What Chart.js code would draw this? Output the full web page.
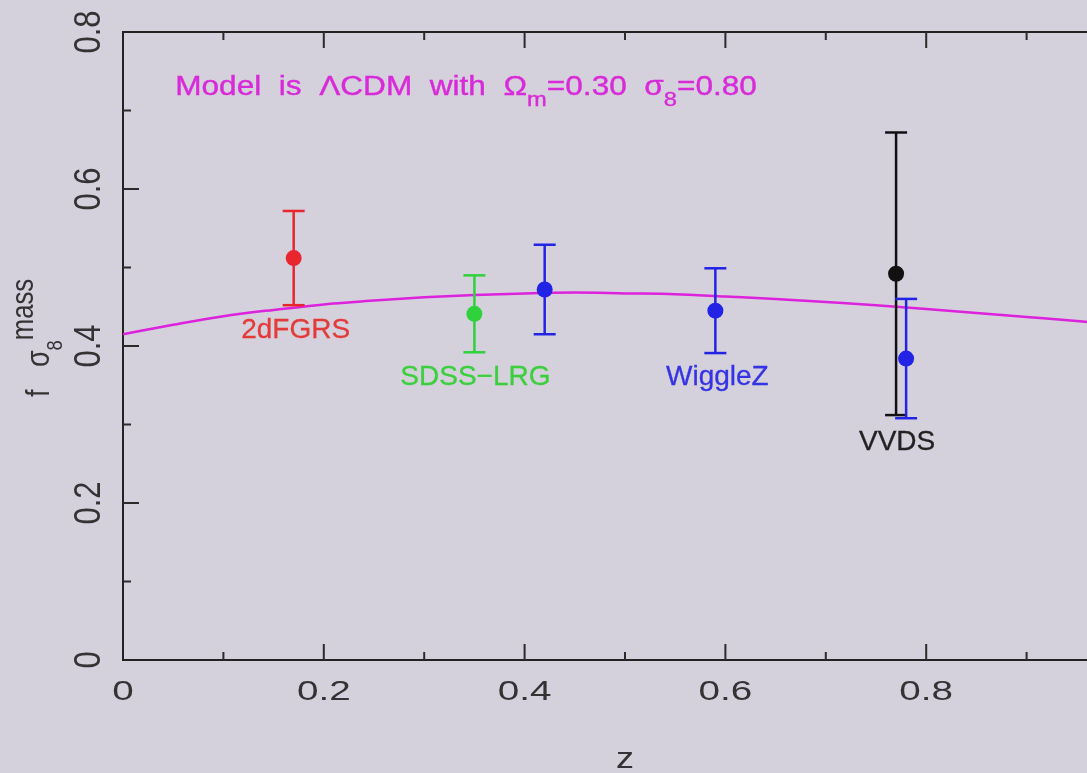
<!DOCTYPE html>
<html>
<head>
<meta charset="utf-8">
<title>f sigma8 vs z</title>
<script src="https://cdn.jsdelivr.net/npm/chart.js@4.4.1/dist/chart.umd.min.js"></script>
<style>
  html, body { margin: 0; padding: 0; overflow: hidden; background: #d4d0dc; }
  #wrap { position: relative; width: 1160px; height: 773px; }
</style>
</head>
<body>
<div id="wrap"><canvas id="c" width="1160" height="773"></canvas></div>
<script>
// growth-rate measurements
const surveys = ['2dFGRS', 'SDSS-LRG', 'WiggleZ', 'WiggleZ', 'WiggleZ', 'VVDS'];
const zData   = [0.17, 0.35, 0.42, 0.59, 0.78, 0.77];
const fsData  = [0.512, 0.441, 0.472, 0.445, 0.384, 0.492];
const fsErr   = [0.060, 0.049, 0.057, 0.054, 0.076, 0.180];

// LCDM prediction, Om=0.30 s8=0.80
const zModel  = [0, 0.05, 0.1, 0.15, 0.2, 0.25, 0.3, 0.35, 0.4, 0.45, 0.5,
                 0.55, 0.6, 0.65, 0.7, 0.75, 0.8, 0.85, 0.9, 0.95, 1.0];
const fsModel = [0.415, 0.427, 0.438, 0.446, 0.453, 0.458, 0.462, 0.465, 0.467, 0.468, 0.467,
                 0.466, 0.463, 0.460, 0.456, 0.452, 0.447, 0.442, 0.437, 0.432, 0.426];

const xTickLabels = [0, 0.2, 0.4, 0.6, 0.8, 1.0];
const xTickMinor  = [0.1, 0.3, 0.5, 0.7, 0.9];
const yTickLabels = [0, 0.2, 0.4, 0.6, 0.8];
const yTickMinor  = [0.1, 0.3, 0.5, 0.7];

const colors = ['#e8262e', '#2fd23a', '#2323e6', '#2323e6', '#2323e6', '#111111'];
const FONT = '"Liberation Sans", Arial, sans-serif';
const INK = '#333333';

// text labels inside the frame: [text, z, baseline value, colour]
const notes = [
  ['2dFGRS',   0.172, 0.410, '#e33a3a'],
  ['SDSS\u2212LRG', 0.351, 0.350, '#3ccf3c'],
  ['WiggleZ',  0.592, 0.350, '#3434e2'],
  ['VVDS',     0.771, 0.268, '#222222'],
];

// draw a run of text pieces (sub/superscripts) with optional stretch and rotation
function drawRich(ctx, segs, x, y, o) {
  ctx.save();
  ctx.translate(x, y);
  ctx.scale(o.sx || 1, 1);
  if (o.rot) ctx.rotate(o.rot);
  ctx.fillStyle = o.color;
  ctx.strokeStyle = o.color;
  ctx.lineWidth = o.weight || 0;
  ctx.textBaseline = 'alphabetic';
  ctx.textAlign = 'left';
  const parts = segs.map(s => {
    const size = o.size * (s.k || 1);
    ctx.font = `${size}px ${FONT}`;
    return { ...s, size, w: ctx.measureText(s.t).width };
  });
  const total = parts.reduce((a, p) => a + p.w, 0);
  let cx = o.align === 'left' ? 0 : -total / 2;
  for (const p of parts) {
    ctx.font = `${p.size}px ${FONT}`;
    const dy = (p.dy || 0) * o.size;
    ctx.fillText(p.t, cx, dy);
    if (o.weight) ctx.strokeText(p.t, cx, dy);
    cx += p.w;
  }
  ctx.restore();
}

const framePlugin = {
  id: 'frame',
  afterDraw(chart) {
    const { ctx, chartArea: a, scales: { x, y } } = chart;
    ctx.save();
    ctx.strokeStyle = '#2b2b2b';
    ctx.lineWidth = 2;
    ctx.beginPath();
    const tick = (v, len) => {
      const px = x.getPixelForValue(v);
      ctx.moveTo(px, a.bottom); ctx.lineTo(px, a.bottom - len);
      ctx.moveTo(px, a.top);    ctx.lineTo(px, a.top + len);
    };
    xTickLabels.slice(1).forEach(v => tick(v, 16));
    xTickMinor.forEach(v => tick(v, 8));
    const ytick = (v, len) => {
      const py = y.getPixelForValue(v);
      ctx.moveTo(a.left, py); ctx.lineTo(a.left + len, py);
    };
    yTickLabels.slice(1, -1).forEach(v => ytick(v, 16));
    yTickMinor.forEach(v => ytick(v, 8));
    ctx.stroke();
    ctx.restore();

    // tick labels
    xTickLabels.forEach(v => {
      drawRich(ctx, [{ t: String(v === 1 ? '1' : v) }], x.getPixelForValue(v), a.bottom + 40,
        { size: 28, sx: 1.38, color: INK });
    });
    yTickLabels.forEach(v => {
      drawRich(ctx, [{ t: String(v) }], a.left - 23, y.getPixelForValue(v),
        { size: 31, sx: 1.2, rot: -Math.PI / 2, color: INK });
    });

    // axis titles
    drawRich(ctx, [{ t: 'z' }], (a.left + a.right) / 2, a.bottom + 108,
      { size: 30, sx: 1.2, color: INK });
    drawRich(ctx, [
      { t: 'f   ' }, { t: '\u03c3' },
      { t: '8', k: 0.68, dy: 0.4 },
      { t: 'mass', k: 0.95, dy: -0.5 }
    ], 49, 338, { size: 27, sx: 1.2, rot: -Math.PI / 2, color: INK });

    // survey names
    notes.forEach(([t, zv, fv, c]) => {
      drawRich(ctx, [{ t }], x.getPixelForValue(zv), y.getPixelForValue(fv),
        { size: 28, color: c, weight: 0.3 });
    });

    // model caption
    drawRich(ctx, [
      { t: 'Model  is  \u039bCDM  with  \u03a9' },
      { t: 'm', k: 0.75, dy: 0.4 },
      { t: '=0.30  \u03c3' },
      { t: '8', k: 0.75, dy: 0.4 },
      { t: '=0.80' }
    ], x.getPixelForValue(0.052), y.getPixelForValue(0.72),
      { size: 27, sx: 1.17, align: 'left', color: '#d82ad8', weight: 0.4 });
  }
};

const errorBars = zData.map((z, i) => ({
  type: 'line',
  data: [{ x: z, y: fsData[i] - fsErr[i] }, { x: z, y: fsData[i] + fsErr[i] }],
  borderColor: colors[i],
  borderWidth: 2.5,
  pointStyle: 'line',
  pointRadius: 11,
  pointHoverRadius: 11,
  pointBorderColor: colors[i],
  pointBorderWidth: 2.5,
  order: 2
}));

const noFit = side => scale => { scale[side] = 0; };
const axisBase = {
  type: 'linear',
  ticks: { display: false },
  grid: { display: false },
  border: { display: true, color: '#222', width: 2 }
};

new Chart(document.getElementById('c'), {
  data: {
    datasets: [
      {
        type: 'scatter',
        data: zData.map((z, i) => ({ x: z, y: fsData[i] })),
        pointBackgroundColor: colors,
        pointBorderWidth: 0,
        pointRadius: 8,
        pointHoverRadius: 8,
        order: 1
      },
      ...errorBars,
      {
        type: 'line',
        data: zModel.map((z, i) => ({ x: z, y: fsModel[i] })),
        borderColor: '#dd22dd',
        borderWidth: 2.5,
        pointRadius: 0,
        cubicInterpolationMode: 'monotone',
        order: 3
      }
    ]
  },
  options: {
    responsive: false,
    devicePixelRatio: 1,
    animation: false,
    events: [],
    layout: { padding: { left: 123, top: 32, right: 33, bottom: 113 } },
    plugins: { legend: { display: false }, tooltip: { enabled: false } },
    scales: {
      x: { ...axisBase, position: 'bottom', min: 0, max: 1, afterFit: noFit('height') },
      xTop: { ...axisBase, axis: 'x', position: 'top', min: 0, max: 1, afterFit: noFit('height') },
      y: { ...axisBase, position: 'left', min: 0, max: 0.8, afterFit: noFit('width') }
    }
  },
  plugins: [framePlugin]
});
</script>
</body>
</html>
